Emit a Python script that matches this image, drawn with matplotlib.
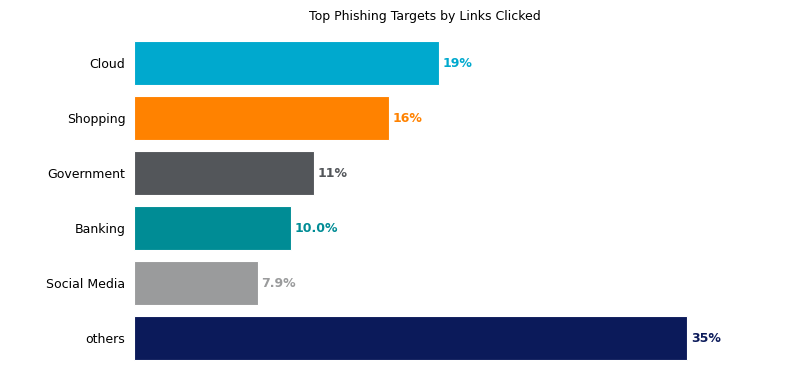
import matplotlib
matplotlib.use("Agg")
import matplotlib.pyplot as plt

categories = ["Cloud", "Shopping", "Government", "Banking", "Social Media", "others"]
shares = [19.37, 16.22, 11.41, 9.97, 7.88, 35.15]
share_labels = ["19%", "16%", "11%", "10.0%", "7.9%", "35%"]
colors = ["#00A9CE", "#FF8200", "#53565A", "#008C95", "#9A9B9C", "#0B1A5A"]

fig = plt.figure(figsize=(7.87, 3.92), dpi=100)
ax = fig.add_axes([0.1703, 0.041, 0.7382, 0.894])

ax.barh(categories, shares, height=0.8, color=colors, edgecolor="white", linewidth=0.8)
ax.invert_yaxis()

for i, (v, lab, c) in enumerate(zip(shares, share_labels, colors)):
    ax.annotate(lab, (v, i), xytext=(2.5, 0), textcoords="offset points",
                va="center", ha="left", fontsize=9, fontweight="bold", color=c)

ax.set_title("Top Phishing Targets by Links Clicked", fontsize=9, pad=4)
for s in ax.spines.values():
    s.set_visible(False)
ax.set_xticks([])
ax.tick_params(axis="y", length=0, pad=6.3, labelsize=9)

fig.savefig("out.png", dpi=100)
